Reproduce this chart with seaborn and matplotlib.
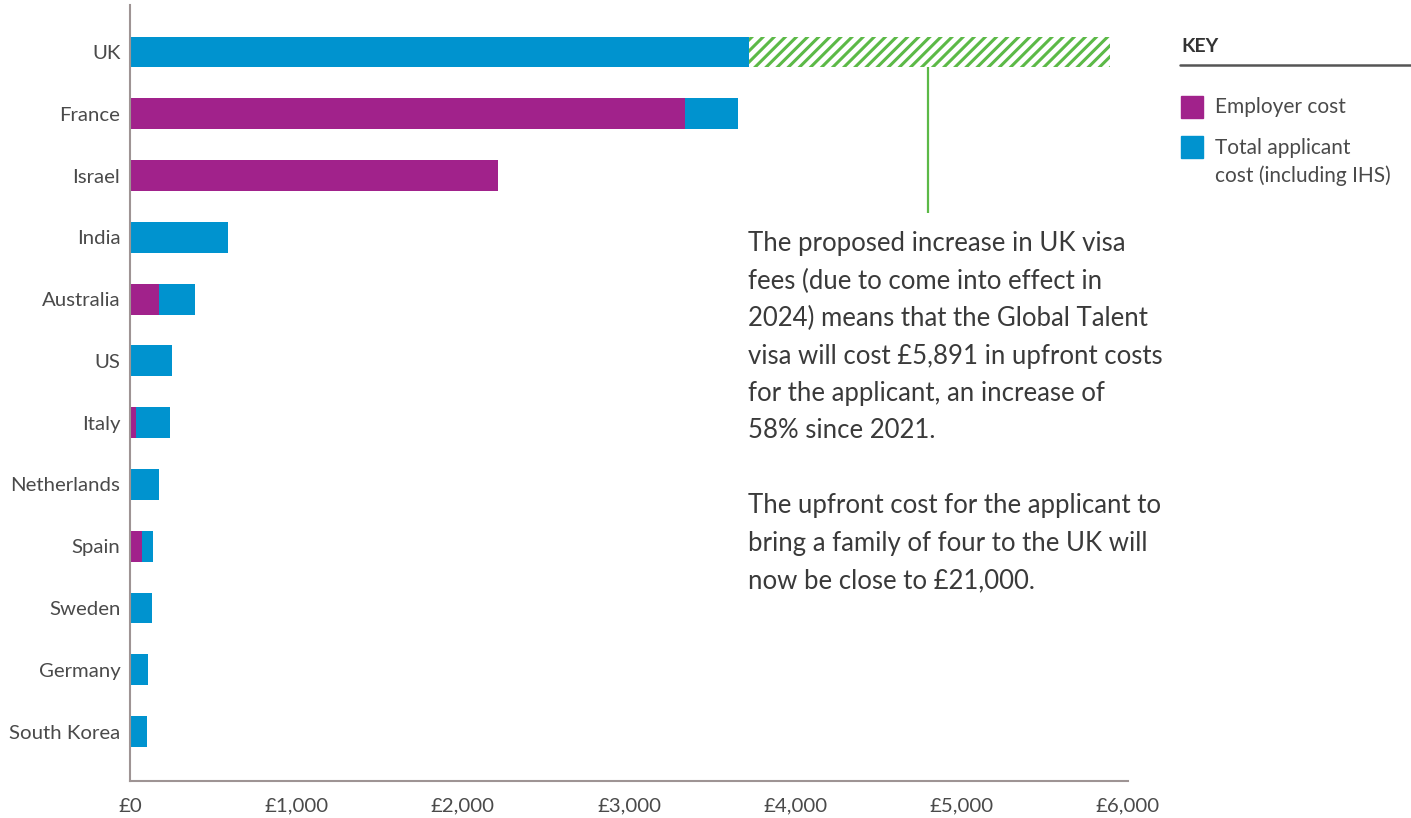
import numpy as np
import pandas as pd
import seaborn as sns
import matplotlib.pyplot as plt
from matplotlib.patches import Rectangle

countries = ['UK', 'France', 'Israel', 'India', 'Australia', 'US', 'Italy',
             'Netherlands', 'Spain', 'Sweden', 'Germany', 'South Korea']
employer_cost = [0, 3335, 2211, 0, 174, 0, 34, 0, 72, 0, 0, 0]
applicant_cost = [3720, 319, 0, 589, 218, 252, 206, 174, 66, 132, 108, 102]
# proposed 2024 upfront cost (UK only)
proposed_cost = [5891, 0, 0, 0, 0, 0, 0, 0, 0, 0, 0, 0]

xticks = [0, 1000, 2000, 3000, 4000, 5000, 6000]
xtick_labels = ['£0', '£1,000', '£2,000', '£3,000', '£4,000', '£5,000', '£6,000']

PURPLE = '#A1228B'
BLUE = '#0093CF'
GREEN = '#5CB947'
TXT = '#4a4a4a'

df = pd.DataFrame({'country': countries,
                   'employer': employer_cost,
                   'total': np.array(employer_cost) + np.array(applicant_cost),
                   'proposed': proposed_cost})

sns.set_style('white')
plt.rcParams['font.family'] = ['Lato', 'DejaVu Sans']
plt.rcParams['hatch.linewidth'] = 2.2
plt.rcParams['hatch.color'] = GREEN

fig = plt.figure(figsize=(14.11, 8.18), dpi=100)
ax = fig.add_axes([130 / 1411, 1 - 781 / 818, 998 / 1411, 776 / 818])

# proposed (hatched), then total applicant, then employer on top
sns.barplot(data=df, x='proposed', y='country', order=countries, orient='h',
            width=0.5, errorbar=None, facecolor='white', edgecolor=GREEN,
            hatch='///', linewidth=0, ax=ax)
sns.barplot(data=df, x='total', y='country', order=countries, orient='h',
            width=0.5, errorbar=None, color=BLUE, linewidth=0, saturation=1, ax=ax)
sns.barplot(data=df, x='employer', y='country', order=countries, orient='h',
            width=0.5, errorbar=None, color=PURPLE, linewidth=0, saturation=1, ax=ax)

# callout line from the UK bar
ax.plot([4800, 4800], [0.25, 2.6], color=GREEN, lw=1.6, solid_capstyle='butt')

ax.set_xlim(0, 6000)
ax.set_ylim(11.8, -0.76)
ax.set_xticks(xticks)
ax.set_xticklabels(xtick_labels)
ax.set_xlabel('')
ax.set_ylabel('')
ax.tick_params(axis='both', length=0, labelsize=14.7, colors=TXT)
ax.tick_params(axis='y', pad=7)
ax.tick_params(axis='x', pad=12)
for s in ['top', 'right']:
    ax.spines[s].set_visible(False)
for s in ['left', 'bottom']:
    ax.spines[s].set_color('#9e9494')
    ax.spines[s].set_linewidth(1.5)

note = ("The proposed increase in UK visa\n"
        "fees (due to come into effect in\n"
        "2024) means that the Global Talent\n"
        "visa will cost £5,891 in upfront costs\n"
        "for the applicant, an increase of\n"
        "58% since 2021.\n"
        "\n"
        "The upfront cost for the applicant to\n"
        "bring a family of four to the UK will\n"
        "now be close to £21,000.")
fig.text(748 / 1411, 1 - 231 / 818, note, ha='left', va='top', fontsize=18.5,
         color='#3a3a3a', linespacing=1.62)

# key
fig.text(1181 / 1411, 1 - 46 / 818, 'KEY', ha='left', va='center',
         fontsize=14, fontweight='bold', color='#333333')
fig.add_artist(plt.Line2D([1180 / 1411, 1], [1 - 65 / 818, 1 - 65 / 818],
                          color='#555555', lw=1.8, transform=fig.transFigure))
fig.add_artist(Rectangle((1181 / 1411, 1 - 118 / 818), 22 / 1411, 22 / 818,
                         color=PURPLE, transform=fig.transFigure))
fig.add_artist(Rectangle((1181 / 1411, 1 - 158 / 818), 22 / 1411, 22 / 818,
                         color=BLUE, transform=fig.transFigure))
fig.text(1215 / 1411, 1 - 107 / 818, 'Employer cost', ha='left', va='center',
         fontsize=15, color=TXT)
fig.text(1215 / 1411, 1 - 138 / 818, 'Total applicant\ncost (including IHS)',
         ha='left', va='top', fontsize=15, color=TXT, linespacing=1.45)

fig.savefig('out.png', dpi=100)
